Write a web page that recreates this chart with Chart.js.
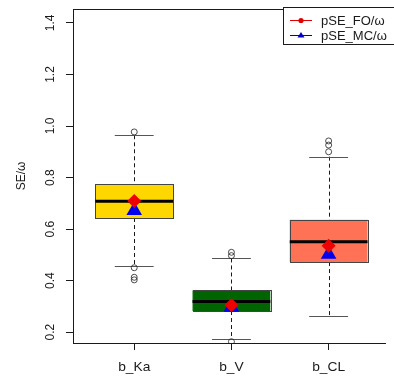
<!DOCTYPE html>
<html>
<head>
<meta charset="utf-8">
<script src="https://cdn.jsdelivr.net/npm/chart.js@4"></script>
<style>
  html, body { margin: 0; padding: 0; background: #fff; }
  #wrap { width: 394px; height: 377px; position: relative; }
</style>
</head>
<body>
<div id="wrap"><canvas id="boxChart"></canvas></div>
<script>
// 參數與數據
const categories = ['b_Ka', 'b_V', 'b_CL'];
const boxColors = ['#FFD700', '#006400', '#FF7256'];
const whiskerLow = [0.457, 0.173, 0.262];
const q1 = [0.643, 0.282, 0.472];
const median = [0.708, 0.319, 0.551];
const q3 = [0.774, 0.362, 0.636];
const whiskerHigh = [0.964, 0.486, 0.881];
const outliers = [
    [0.977, 0.45, 0.413, 0.403],
    [0.51, 0.497, 0.163],
    [0.942, 0.926, 0.9]
];
const meanFO = [0.709, 0.305, 0.535];
const meanMC = [0.672, 0.297, 0.502];
const yTicks = [0.2, 0.4, 0.6, 0.8, 1.0, 1.2, 1.4];
const seriesNames = ['pSE_FO/\u03c9', 'pSE_MC/\u03c9'];
const yTitle = 'SE/\u03c9';

const FONT = '"Liberation Sans", Arial, sans-serif';
const INK = '#1a1a1a';

// 水平略拉寬的文字
function wideText(ctx, text, x, y, align, stretch) {
    ctx.save();
    ctx.translate(x, y);
    ctx.scale(stretch, 1);
    ctx.textAlign = align;
    ctx.fillText(text, 0, 0);
    ctx.restore();
}

// 箱線圖繪製插件
const boxplotPlugin = {
    id: 'boxplot',
    beforeDatasetsDraw(chart) {
        const ctx = chart.ctx;
        const x = chart.scales.x;
        const y = chart.scales.y;
        ctx.save();
        categories.forEach((c, i) => {
            const pos = i + 1;
            const xl = x.getPixelForValue(pos - 0.4);
            const xr = x.getPixelForValue(pos + 0.4);
            const xc = Math.round(x.getPixelForValue(pos)) + 0.5;
            const cl = x.getPixelForValue(pos - 0.2);
            const cr = x.getPixelForValue(pos + 0.2);
            // 虛線鬚
            ctx.strokeStyle = INK;
            ctx.lineWidth = 1;
            ctx.setLineDash([4, 3]);
            ctx.beginPath();
            ctx.moveTo(xc, y.getPixelForValue(whiskerHigh[i]));
            ctx.lineTo(xc, y.getPixelForValue(q3[i]));
            ctx.moveTo(xc, y.getPixelForValue(q1[i]));
            ctx.lineTo(xc, y.getPixelForValue(whiskerLow[i]));
            ctx.stroke();
            ctx.setLineDash([]);
            // 端線
            ctx.strokeStyle = '#555';
            ctx.beginPath();
            [whiskerHigh[i], whiskerLow[i]].forEach(v => {
                const yy = Math.round(y.getPixelForValue(v)) + 0.5;
                ctx.moveTo(cl, yy);
                ctx.lineTo(cr, yy);
            });
            ctx.stroke();
            // 箱體
            const yt = y.getPixelForValue(q3[i]);
            const yb = y.getPixelForValue(q1[i]);
            ctx.fillStyle = boxColors[i];
            ctx.fillRect(xl, yt, xr - xl, yb - yt);
            ctx.strokeStyle = '#444';
            ctx.strokeRect(Math.round(xl) + 0.5, Math.round(yt) + 0.5, Math.round(xr - xl), Math.round(yb - yt));
            // 中位數
            ctx.strokeStyle = '#000';
            ctx.lineWidth = 3;
            ctx.beginPath();
            const ym = y.getPixelForValue(median[i]);
            ctx.moveTo(xl, ym);
            ctx.lineTo(xr, ym);
            ctx.stroke();
        });
        ctx.restore();
    },
    afterDraw(chart) {
        const ctx = chart.ctx;
        const x = chart.scales.x;
        const y = chart.scales.y;
        const area = chart.chartArea;
        ctx.save();
        // 上邊框
        ctx.strokeStyle = INK;
        ctx.lineWidth = 1;
        ctx.beginPath();
        ctx.moveTo(area.left, area.top + 0.5);
        ctx.lineTo(area.right, area.top + 0.5);
        ctx.stroke();
        // y 軸刻度文字 (旋轉)
        ctx.fillStyle = INK;
        ctx.font = '12px ' + FONT;
        ctx.textAlign = 'center';
        ctx.textBaseline = 'middle';
        yTicks.forEach(v => {
            ctx.save();
            ctx.translate(51, y.getPixelForValue(v));
            ctx.rotate(-Math.PI / 2);
            ctx.fillText(v.toFixed(1), 0, 0);
            ctx.restore();
        });
        // y 軸標題
        ctx.save();
        ctx.translate(22, (area.top + area.bottom) / 2);
        ctx.rotate(-Math.PI / 2);
        ctx.fillText(yTitle, 0, 0);
        ctx.restore();
        // x 軸類別文字
        ctx.font = '13px ' + FONT;
        categories.forEach((c, i) => {
            wideText(ctx, c, x.getPixelForValue(i + 1), 367, 'center', 1.06);
        });
        // 圖例
        const lx = 283, ly = 7, lh = 37;
        ctx.fillStyle = '#fff';
        ctx.fillRect(lx, ly, 120, lh);
        ctx.strokeStyle = INK;
        ctx.strokeRect(lx + 0.5, ly + 0.5, 120, lh);
        const rows = [
            { color: '#e00000', y: 20, shape: 'circle' },
            { color: '#0000cc', y: 35, shape: 'triangle' }
        ];
        rows.forEach((r, k) => {
            ctx.strokeStyle = r.color;
            ctx.fillStyle = r.color;
            ctx.lineWidth = 1;
            ctx.beginPath();
            ctx.moveTo(290, r.y + 0.5);
            ctx.lineTo(312, r.y + 0.5);
            ctx.stroke();
            ctx.beginPath();
            if (r.shape === 'circle') {
                ctx.arc(301, r.y + 0.5, 2.6, 0, Math.PI * 2);
            } else {
                ctx.moveTo(301, r.y - 3);
                ctx.lineTo(304.5, r.y + 2.5);
                ctx.lineTo(297.5, r.y + 2.5);
                ctx.closePath();
            }
            ctx.fill();
            ctx.fillStyle = INK;
            wideText(ctx, seriesNames[k], 321, r.y + 1, 'left', 1.0);
        });
        ctx.restore();
    }
};

const outlierPoints = [];
outliers.forEach((list, i) => list.forEach(v => outlierPoints.push({ x: i + 1, y: v })));

new Chart(document.getElementById('boxChart'), {
    type: 'scatter',
    data: {
        datasets: [
            {
                label: 'outliers',
                data: outlierPoints,
                pointStyle: 'circle',
                pointRadius: 3,
                borderColor: '#222',
                borderWidth: 0.8,
                backgroundColor: 'rgba(255,255,255,0)'
            },
            {
                label: seriesNames[0],
                data: meanFO.map((v, i) => ({ x: i + 1, y: v })),
                pointStyle: 'rectRot',
                pointRadius: 7,
                borderWidth: 0,
                backgroundColor: '#ee0000'
            },
            {
                label: seriesNames[1],
                data: meanMC.map((v, i) => ({ x: i + 1, y: v })),
                pointStyle: 'triangle',
                pointRadius: 9,
                borderWidth: 0,
                backgroundColor: '#0000ee'
            }
        ]
    },
    options: {
        responsive: true,
        maintainAspectRatio: false,
        animation: false,
        layout: { padding: { top: 7, right: 0, bottom: 0, left: 0 } },
        plugins: {
            legend: { display: false },
            tooltip: { enabled: false }
        },
        scales: {
            x: {
                type: 'linear',
                min: 0.37,
                max: 3.58,
                afterBuildTicks: s => { s.ticks = categories.map((c, i) => ({ value: i + 1 })); },
                afterFit: s => { s.height = 34; },
                ticks: { display: false },
                grid: { display: true, drawOnChartArea: false, drawTicks: true, tickLength: 7, color: INK },
                border: { display: true, color: INK }
            },
            y: {
                min: 0.158,
                max: 1.454,
                afterBuildTicks: s => { s.ticks = yTicks.map(v => ({ value: v })); },
                afterFit: s => { s.width = 73; },
                ticks: { display: false },
                grid: { display: true, drawOnChartArea: false, drawTicks: true, tickLength: 7, color: INK },
                border: { display: true, color: INK }
            }
        }
    },
    plugins: [boxplotPlugin]
});
</script>
</body>
</html>
